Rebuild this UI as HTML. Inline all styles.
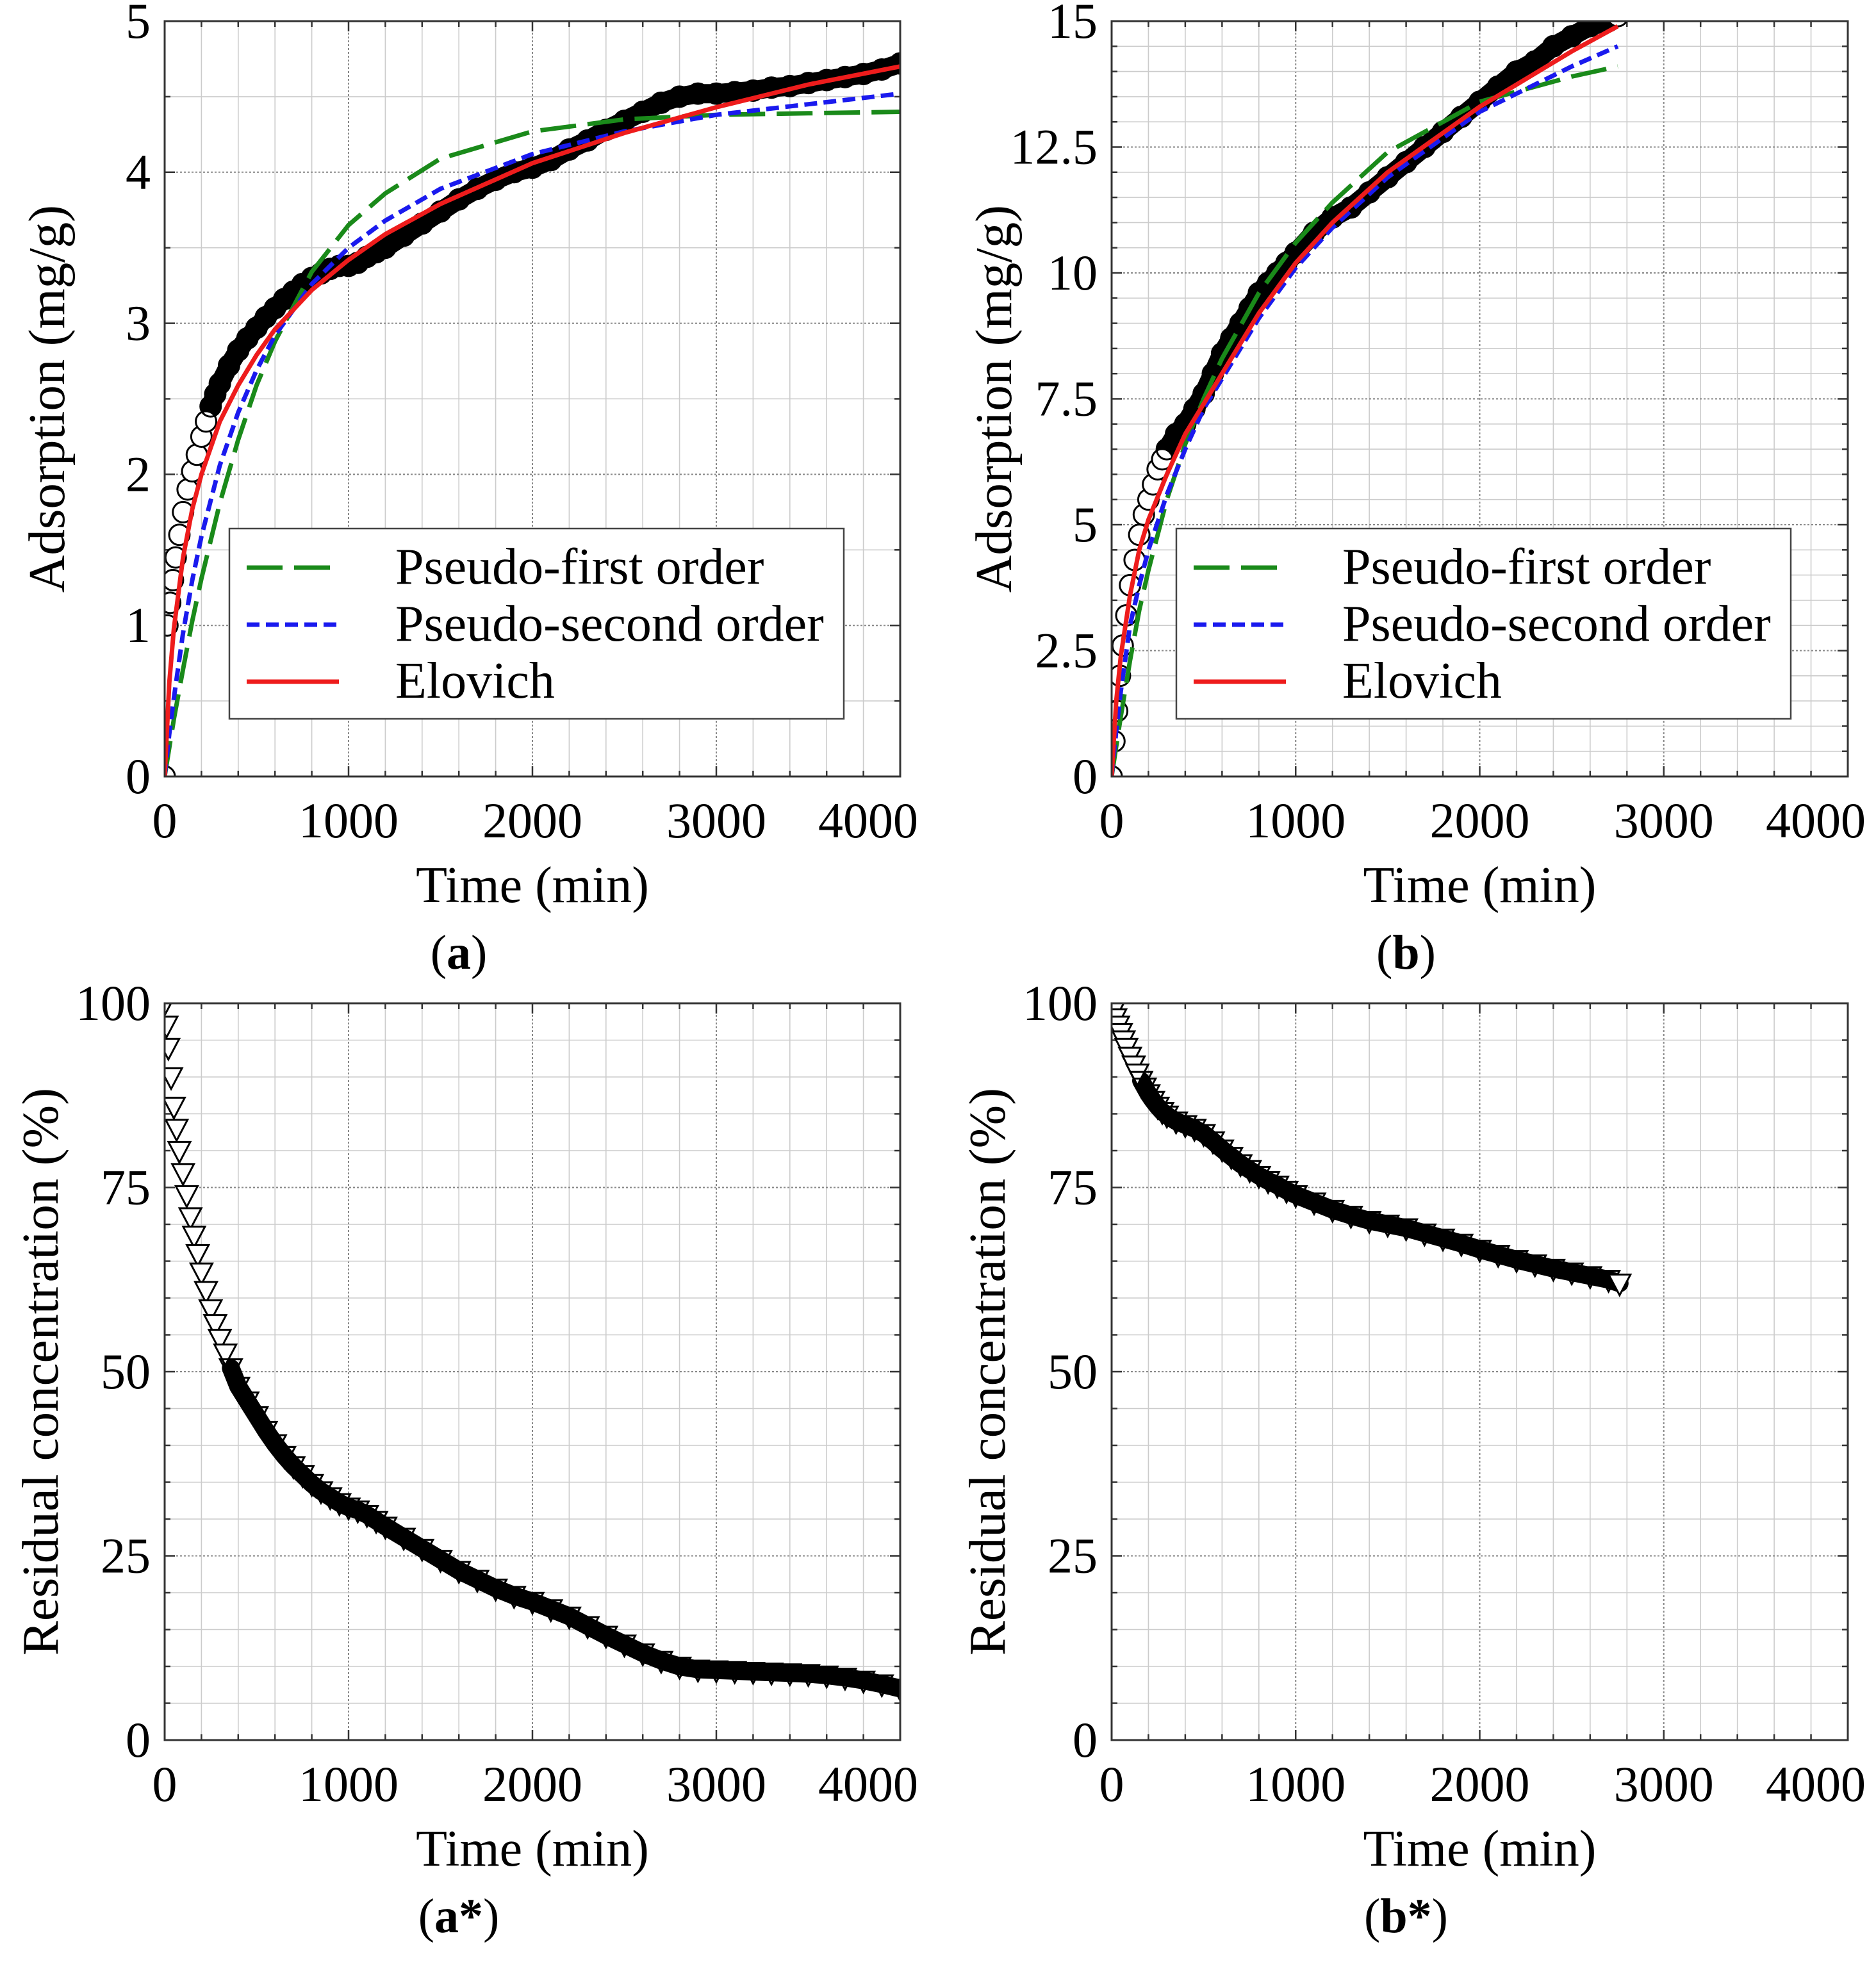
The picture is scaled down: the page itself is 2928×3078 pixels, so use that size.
<!DOCTYPE html>
<html><head><meta charset="utf-8"><style>
html,body{margin:0;padding:0;background:#fff}
svg{display:block}
text{font-family:"Liberation Serif","DejaVu Serif",serif;fill:#000}
</style></head><body>
<svg id="fig" width="2928" height="3078" viewBox="0 0 2928 3078" xmlns="http://www.w3.org/2000/svg"></svg>
<script>
// ---- Panel (a) data ----
const aTime=[0,15,30,45,60,80,100,125,150,175,200,225,250,275,300,350,400,450,500,550,600,650,700,750,800,850,900,950,1000,1050,1100,1150,1200,1300,1400,1500,1600,1700,1800,1900,2000,2100,2200,2300,2400,2500,2600,2700,2800,2900,3000,3100,3200,3300,3400,3500,3600,3700,3800,3900,4000,4100,4200];
const aQ=[0,1.0,1.15,1.3,1.45,1.6,1.75,1.9,2.02,2.13,2.25,2.35,2.45,2.53,2.6,2.72,2.82,2.9,2.97,3.04,3.1,3.16,3.21,3.26,3.3,3.33,3.36,3.38,3.38,3.4,3.44,3.47,3.5,3.58,3.66,3.74,3.82,3.89,3.95,4.0,4.03,4.08,4.15,4.21,4.28,4.34,4.4,4.46,4.5,4.52,4.52,4.53,4.54,4.56,4.57,4.59,4.61,4.63,4.65,4.68,4.72,4.75,4.78];
const aFitTime=[0,25,50,100,150,200,300,400,500,600,800,1000,1200,1500,2000,2500,3000,3500,4000,4200];
const aPFO=[0,0.19,0.38,0.71,1.03,1.31,1.81,2.23,2.59,2.88,3.34,3.65,3.86,4.09,4.27,4.35,4.38,4.39,4.40,4.40];
const aPSO=[0,0.28,0.52,0.95,1.30,1.59,2.06,2.41,2.69,2.92,3.26,3.50,3.68,3.89,4.12,4.27,4.38,4.45,4.52,4.54];
const aElo=[0,0.62,0.98,1.45,1.77,2.0,2.35,2.59,2.79,2.96,3.22,3.42,3.59,3.79,4.06,4.26,4.43,4.58,4.70,4.75];
// ---- Panel (b) data ----
const bTime=[0,15,30,45,60,80,100,125,150,175,200,225,250,275,300,350,400,450,500,550,600,650,700,750,800,850,900,950,1000,1100,1200,1300,1400,1500,1600,1700,1800,1900,2000,2100,2200,2300,2400,2500,2600,2700,2750];
const bQ=[0,0.7,1.3,2.0,2.6,3.2,3.8,4.3,4.8,5.2,5.5,5.8,6.1,6.3,6.5,6.8,7.0,7.3,7.6,8.0,8.4,8.7,9.0,9.3,9.6,9.8,10.0,10.2,10.4,10.8,11.1,11.3,11.6,11.9,12.2,12.5,12.8,13.1,13.4,13.7,14.0,14.2,14.5,14.7,14.9,15.0,15.1];
const bFitTime=[0,25,50,100,150,200,300,400,500,600,800,1000,1200,1500,2000,2500,2750];
const bPFO=[0,0.6,1.2,2.3,3.3,4.1,5.5,6.6,7.5,8.3,9.6,10.6,11.4,12.4,13.4,13.9,14.1];
const bPSO=[0,0.9,1.7,3.0,3.8,4.5,5.6,6.5,7.3,7.9,9.1,10.1,10.9,11.9,13.2,14.1,14.5];
const bElo=[0,1.5,2.4,3.6,4.5,5.1,6.0,6.8,7.4,8.0,9.2,10.2,11.0,12.0,13.3,14.4,14.9];
// ---- Panel (a*) data ----
const asTime=[0,10,20,35,50,65,80,100,120,140,160,180,200,225,250,275,300,330,360,400,450,500,550,600,650,700,750,800,850,900,950,1000,1050,1100,1150,1200,1300,1400,1500,1600,1700,1800,1900,2000,2100,2200,2300,2400,2500,2600,2700,2800,2900,3000,3100,3200,3300,3400,3500,3600,3700,3800,3900,4000,4100,4200];
const asR=[100,97,94,90,86,83,80,77,74,71,68.5,66,63.5,61,58.5,56.5,54.5,52.5,50.5,48,46,44,42,40.2,38.6,37.2,36,34.8,33.8,33,32.2,31.6,31.2,30.6,29.8,29,27.5,26,24.5,23,21.8,20.6,19.6,18.8,17.8,16.8,15.5,14.2,13,11.8,10.8,10,9.6,9.5,9.4,9.3,9.2,9.1,9.0,8.8,8.5,8.1,7.6,7.0,6.4,5.8];
// ---- Panel (b*) data ----
const bsTime=[0,10,20,35,50,65,80,100,120,140,160,180,200,225,250,275,300,350,400,450,500,550,600,650,700,750,800,850,900,950,1000,1100,1200,1300,1400,1500,1600,1700,1800,1900,2000,2100,2200,2300,2400,2500,2600,2700,2760];
const bsR=[100,99,98,97,96,95,94,92.8,91.6,90.5,89.5,88.6,87.7,86.8,86,85.3,84.8,84,83.5,83,82.3,81.3,80.2,79.2,78.2,77.4,76.6,75.9,75.3,74.6,74,73,72,71.2,70.5,70,69.5,68.8,68.1,67.4,66.6,65.9,65.2,64.6,64.0,63.5,63.0,62.5,62.0];

const xTicks=[0,1000,2000,3000,4000];
const xTickLabels=["0","1000","2000","3000","4000"];
const aYTicks=[0,1,2,3,4,5], aYLabels=["0","1","2","3","4","5"];
const bYTicks=[0,2.5,5,7.5,10,12.5,15], bYLabels=["0","2.5","5","7.5","10","12.5","15"];
const rYTicks=[0,25,50,75,100], rYLabels=["0","25","50","75","100"];
const legendNames=["Pseudo-first order","Pseudo-second order","Elovich"];

const NS="http://www.w3.org/2000/svg";
const svg=document.getElementById('fig');
function mk(tag,attrs,parent){const e=document.createElementNS(NS,tag);for(const k in attrs)e.setAttribute(k,attrs[k]);(parent||svg).appendChild(e);return e;}

function panel(o){
  const g=mk('g',{});
  
  
  const X=v=>o.x0+(v-0)/(4000)*(o.x1-o.x0);
  const Y=v=>o.y1-(v-o.ymin)/(o.ymax-o.ymin)*(o.y1-o.y0);
  const clipId='clip-'+o.name;
  const cp=mk('clipPath',{id:clipId},g);
  mk('rect',{x:o.x0,y:o.y0,width:o.x1-o.x0,height:o.y1-o.y0},cp);
  const grid=mk('g',{},g);
  
  
  for(let v=0;v<=4000;v+=200){const major=v%1000===0;
    mk('line',{x1:X(v),x2:X(v),y1:o.y0,y2:o.y1,stroke:major?'#888':'#ccc','stroke-width':major?2:1.6,'stroke-dasharray':major?'3,3':'none'},grid);
    const tl=major?16:9;
    mk('line',{x1:X(v),x2:X(v),y1:o.y1,y2:o.y1-tl,stroke:'#333','stroke-width':2.5},grid);
    mk('line',{x1:X(v),x2:X(v),y1:o.y0,y2:o.y0+tl,stroke:'#333','stroke-width':2.5},grid);
  }
  for(let i=0;;i++){const v=o.ymin+i*o.ymin_step;if(v>o.ymax+1e-9)break;
    const major=Math.abs(Math.round(v/o.ymajor)*o.ymajor-v)<1e-6;
    mk('line',{x1:o.x0,x2:o.x1,y1:Y(v),y2:Y(v),stroke:major?'#888':'#ccc','stroke-width':major?2:1.6,'stroke-dasharray':major?'3,3':'none'},grid);
    const tl=major?16:9;
    mk('line',{x1:o.x0,x2:o.x0+tl,y1:Y(v),y2:Y(v),stroke:'#333','stroke-width':2.5},grid);
    mk('line',{x1:o.x1,x2:o.x1-tl,y1:Y(v),y2:Y(v),stroke:'#333','stroke-width':2.5},grid);
  }
  const data=mk('g',{'clip-path':`url(#${clipId})`},g);
  
  
  const bandPts=o.t.map((t,i)=>[t,o.v[i]]).filter(p=>p[0]>=o.bandFrom);
  if(bandPts.length>1){
    const band=mk('path',{d:bandPts.map((p,i)=>(i?'L':'M')+X(p[0]).toFixed(1)+','+Y(p[1]).toFixed(1)).join(' '),fill:'none',stroke:'#000','stroke-width':o.bandW,'stroke-linejoin':'round','stroke-linecap':'round'},data);
    
    
  }
  const markers=mk('g',{},data);
  
  
  o.t.forEach((t,i)=>{
    const cx=X(t),cy=Y(o.v[i]);
    const inBand=t>=o.bandFrom && i<o.t.length-1;
    const fill=inBand?'none':'#fff';
    let m;
    if(o.marker==='circle'){m=mk('circle',{cx:cx,cy:cy,r:16,fill:fill,stroke:'#000','stroke-width':3},markers);}
    else{const s=17;m=mk('polygon',{points:`${cx-s},${cy-s*0.8} ${cx+s},${cy-s*0.8} ${cx},${cy+s*1.1}`,fill:fill,stroke:'#000','stroke-width':3},markers);}
    
    
  });
  if(o.fits){
    const styles=[['#1a8a1a','56,18'],['#1a1aee','20,10'],['#ee1c1c','none']];
    const names=['pseudo-first-order-curve','pseudo-second-order-curve','elovich-curve'];
    o.fits.forEach((arr,k)=>{
      const d=arr.map((v,i)=>(i?'L':'M')+X(o.ft[i]).toFixed(1)+','+Y(v).toFixed(1)).join(' ');
      const p=mk('path',{d:d,fill:'none',stroke:styles[k][0],'stroke-width':7,'stroke-dasharray':styles[k][1]},data);
      
      
    });
    const lg=mk('g',{},g);
    
    
    const lx=o.x0+101, ly=825;
    mk('rect',{x:lx,y:ly,width:959,height:297,fill:'#fff',stroke:'#444','stroke-width':2.5},lg);
    legendNames.forEach((n,k)=>{
      const yy=ly+61+k*89;
      const e=mk('g',{},lg);
      
      
      mk('line',{x1:lx+27,x2:lx+171,y1:yy,y2:yy,stroke:styles[k][0],'stroke-width':7,'stroke-dasharray':styles[k][1]},e);
      const tx=mk('text',{x:lx+259,y:yy+25,'font-size':80},e);tx.textContent=n;
    });
  }
  mk('rect',{x:o.x0,y:o.y0,width:o.x1-o.x0,height:o.y1-o.y0,fill:'none',stroke:'#333','stroke-width':3},g);
  xTicks.forEach((v,i)=>{
    let xx=X(v); if(i===xTicks.length-1)xx-=50;
    const t=mk('text',{x:xx,y:o.y1+95,'font-size':78,'text-anchor':'middle'},g);t.textContent=xTickLabels[i];
    
  });
  o.yt.forEach((v,i)=>{
    const t=mk('text',{x:o.x0-22,y:Y(v)+26,'font-size':78,'text-anchor':'end'},g);t.textContent=o.yl[i];
    
  });
  const xt=mk('text',{x:(o.x0+o.x1)/2,y:o.y1+196,'font-size':80,'text-anchor':'middle'},g);xt.textContent='Time (min)';
  
  const cy=(o.y0+o.y1)/2;
  const tx=o.x0-o.ytOff;
  const yt=mk('text',{x:tx,y:cy,'font-size':81,'text-anchor':'middle',transform:`rotate(-90 ${tx} ${cy})`},g);yt.textContent=o.ytitle;
  
  const sl=mk('text',{x:(o.x0+o.x1)/2-115,y:o.y1+300,'font-size':76,'text-anchor':'middle'},g);
  sl.innerHTML='('+'<tspan font-weight="bold">'+o.label+'</tspan>)';
  
}

panel({name:'panel-a',x0:257,x1:1405,y0:33,y1:1212,ymin:0,ymax:5,ymin_step:0.5,ymajor:1,t:aTime,v:aQ,marker:'circle',bandFrom:250,bandW:30,ft:aFitTime,fits:[aPFO,aPSO,aElo],yt:aYTicks,yl:aYLabels,ytitle:'Adsorption (mg/g)',ytOff:157,label:'a'});
panel({name:'panel-b',x0:1735,x1:2884,y0:33,y1:1212,ymin:0,ymax:15,ymin_step:0.5,ymajor:2.5,t:bTime,v:bQ,marker:'circle',bandFrom:300,bandW:30,ft:bFitTime,fits:[bPFO,bPSO,bElo],yt:bYTicks,yl:bYLabels,ytitle:'Adsorption (mg/g)',ytOff:157,label:'b'});
panel({name:'panel-a-star',x0:257,x1:1405,y0:1566,y1:2716,ymin:0,ymax:100,ymin_step:5,ymajor:25,t:asTime,v:asR,marker:'tri',bandFrom:350,bandW:28,yt:rYTicks,yl:rYLabels,ytitle:'Residual concentration (%)',ytOff:167,label:'a*'});
panel({name:'panel-b-star',x0:1735,x1:2884,y0:1566,y1:2716,ymin:0,ymax:100,ymin_step:5,ymajor:25,t:bsTime,v:bsR,marker:'tri',bandFrom:150,bandW:28,yt:rYTicks,yl:rYLabels,ytitle:'Residual concentration (%)',ytOff:167,label:'b*'});
</script>
</body></html>
